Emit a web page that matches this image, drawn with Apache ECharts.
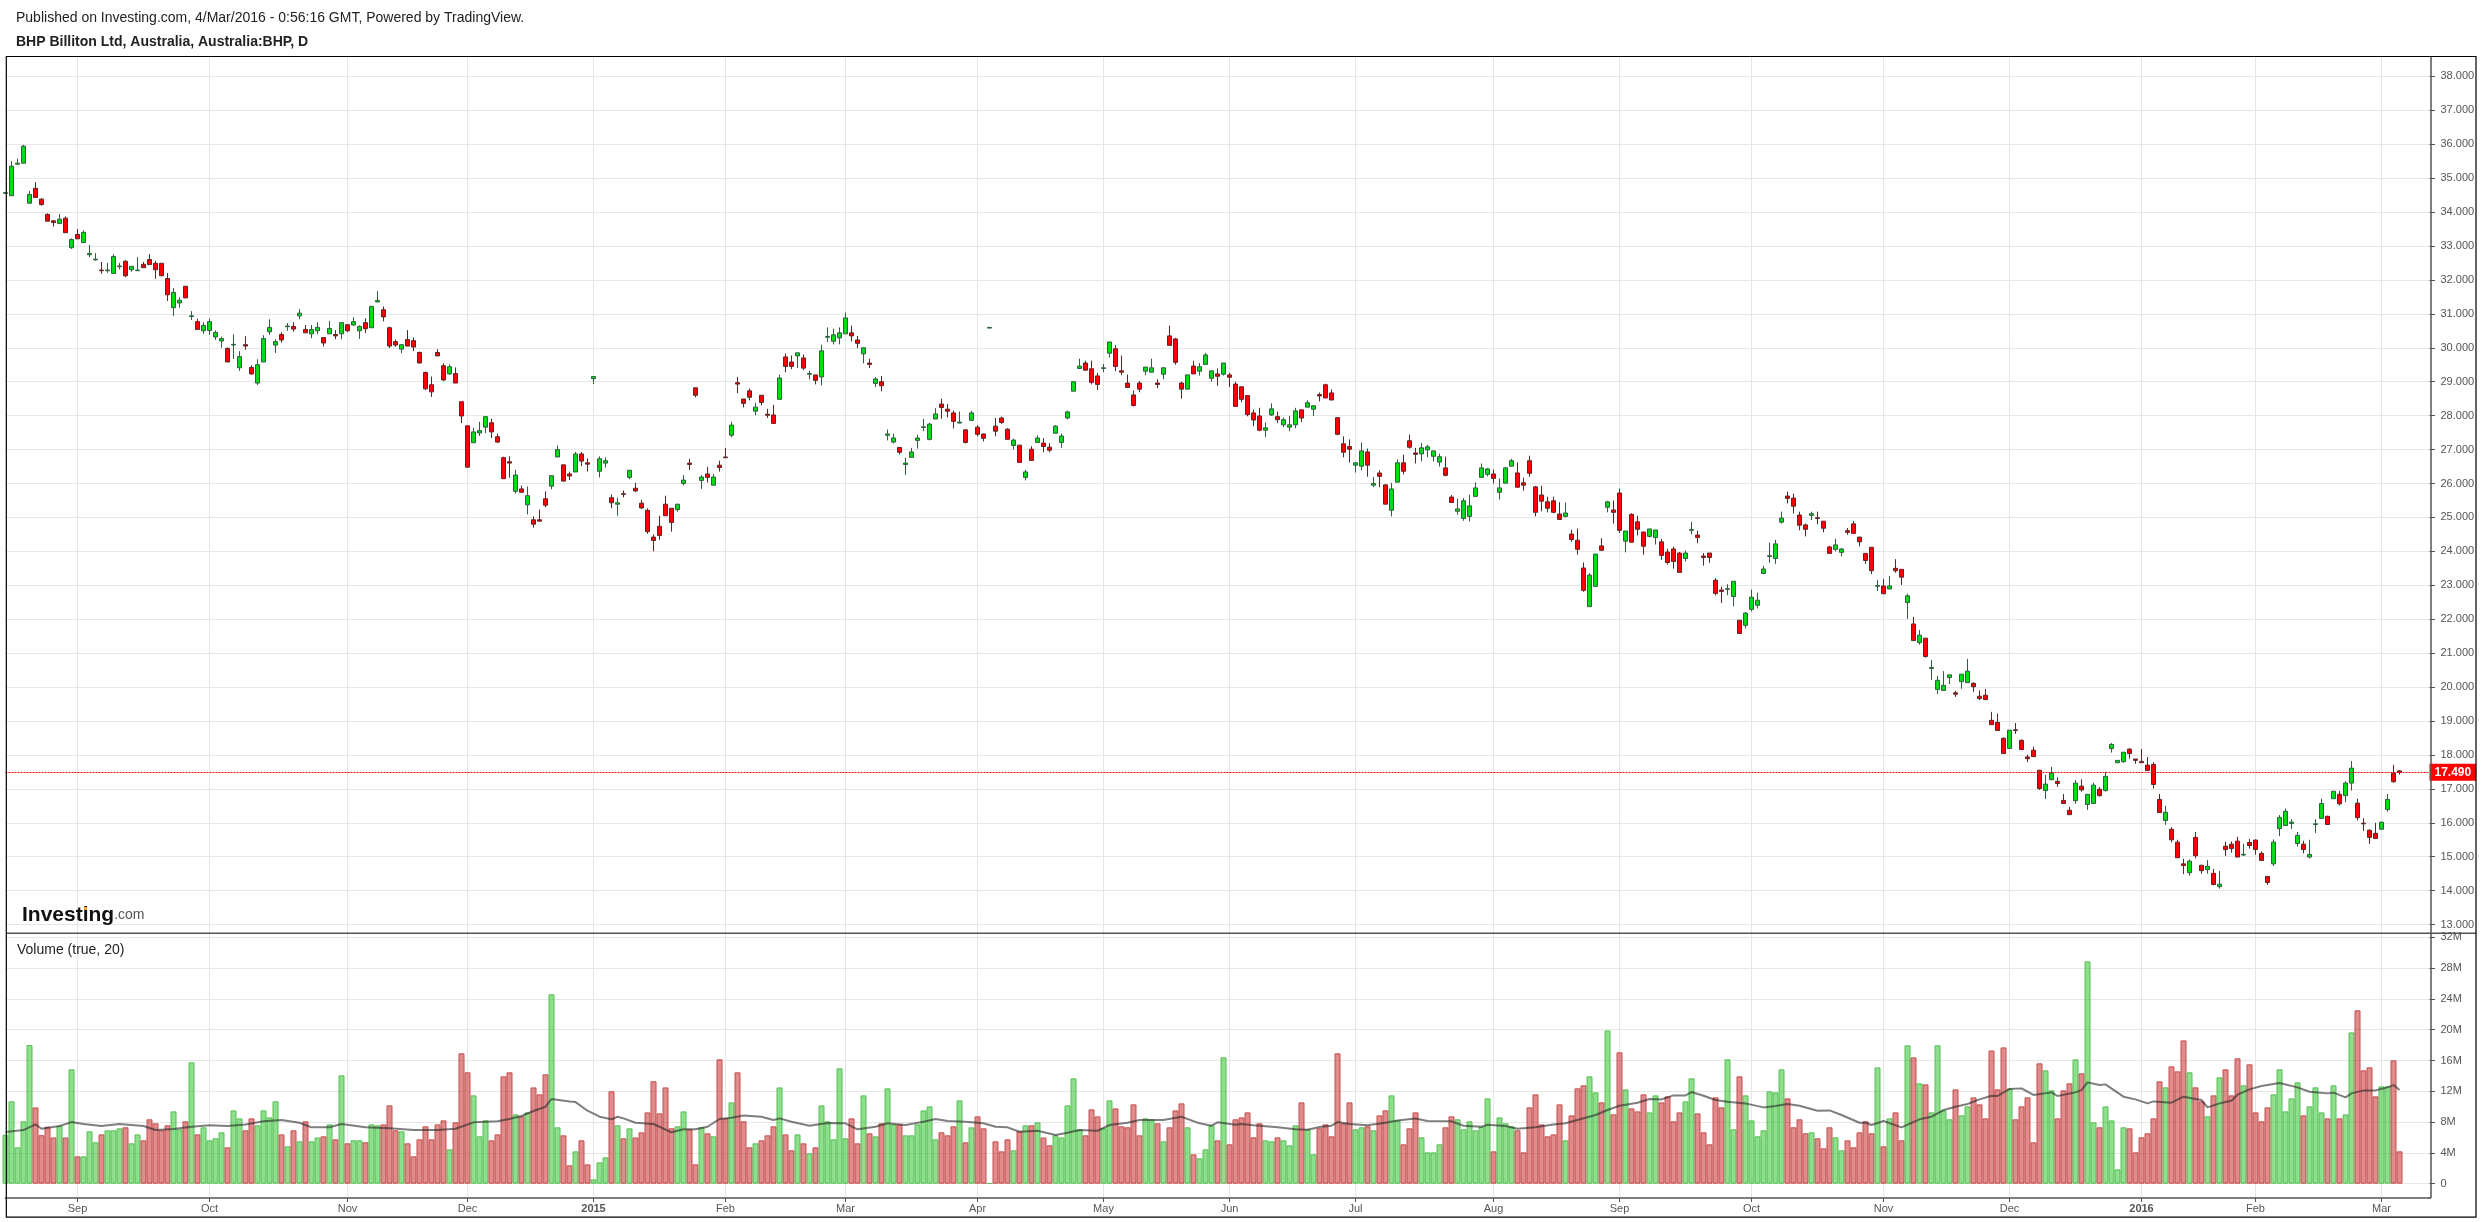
<!DOCTYPE html>
<html>
<head>
<meta charset="utf-8">
<title>BHP Billiton Ltd</title>
<script src="https://cdn.jsdelivr.net/npm/echarts@6/dist/echarts.min.js"></script>
<style>
  html, body { margin: 0; padding: 0; background: #fff; }
  #chart { width: 2484px; height: 1222px; }
</style>
</head>
<body>
<div id="chart"></div>
<script>
// 每日K线：开盘 / 收盘 / 最低 / 最高
const opens = [
  34.55,34.48,35.41,35.44,34.26,34.70,34.38,33.93,33.74,33.66,
  33.82,32.95,33.34,33.10,32.74,32.59,32.29,32.27,32.19,32.39,
  32.55,32.30,32.27,32.46,32.60,32.49,32.49,32.04,31.18,31.32,
  31.81,30.92,30.77,30.50,30.51,30.32,30.20,29.98,30.08,29.41,
  30.09,29.42,28.96,29.58,30.47,30.08,30.39,30.62,30.63,30.94,
  30.54,30.41,30.50,30.30,30.41,30.39,30.41,30.68,30.67,30.50,
  30.74,30.59,31.35,31.12,30.59,30.18,29.96,30.24,30.21,29.86,
  29.27,28.91,29.86,29.47,29.23,29.24,28.41,27.70,27.20,27.49,
  27.66,27.79,27.38,26.76,26.64,25.77,25.84,25.37,24.93,24.93,
  25.55,25.92,26.78,26.55,26.28,26.34,26.87,26.61,29.09,26.36,
  26.60,25.58,25.39,25.70,26.18,25.86,25.42,25.21,24.42,24.74,
  25.39,25.27,25.23,26.00,26.60,28.82,26.09,26.28,25.95,26.54,
  26.78,27.42,28.97,28.49,28.73,28.13,28.60,28.04,28.02,28.48,
  29.73,29.58,29.76,29.70,29.22,29.20,29.14,30.31,30.19,30.29,
  30.41,30.44,30.23,29.82,29.55,28.95,29.00,27.42,27.22,27.06,
  26.56,26.77,27.27,27.65,27.30,27.90,28.34,28.19,28.08,27.78,
  27.58,27.86,27.66,27.46,30.58,27.69,27.93,27.60,27.12,27.13,
  26.18,27.01,27.21,27.19,27.07,27.48,27.21,27.93,28.72,29.39,
  29.55,29.38,29.17,29.39,29.84,29.97,29.32,28.96,28.61,28.96,
  29.31,29.28,28.96,29.22,30.35,30.26,28.96,28.78,29.46,29.31,
  29.51,29.10,29.23,29.22,29.20,28.93,28.85,28.59,28.08,27.99,
  27.57,28.02,27.97,27.73,27.66,27.73,28.17,28.25,28.19,28.62,
  28.91,28.67,27.94,27.17,27.09,26.54,26.51,26.93,25.95,26.31,
  25.96,25.21,26.04,26.61,27.26,26.90,26.87,26.99,26.80,26.63,
  26.46,25.60,25.18,24.97,25.03,25.62,26.18,26.27,26.28,25.74,
  26.01,26.51,26.31,26.02,26.67,25.90,25.66,25.46,25.49,25.10,
  25.03,24.51,24.33,23.51,22.37,22.97,24.16,25.30,25.22,25.72,
  24.30,25.09,24.87,24.57,24.44,24.41,24.28,23.98,24.07,23.95,
  23.79,24.62,24.48,23.86,23.95,23.15,22.86,22.88,22.67,21.97,
  21.82,22.29,22.41,23.35,23.85,23.79,24.86,25.63,25.57,25.07,
  24.78,25.06,24.99,24.89,24.13,24.06,23.97,24.61,24.81,24.42,
  23.94,24.12,22.97,22.98,22.89,23.50,23.47,22.49,21.86,21.31,
  21.44,20.55,19.93,19.90,20.28,19.83,20.16,20.13,20.11,19.73,
  19.76,19.02,18.96,18.49,18.19,18.74,18.43,17.94,18.14,17.55,
  16.95,17.27,17.22,16.66,16.37,16.65,17.08,16.54,16.57,16.99,
  16.95,18.19,17.77,17.80,18.17,17.88,17.81,17.70,17.72,16.69,
  16.07,15.81,15.43,14.79,14.53,15.57,14.75,14.62,14.51,14.12,
  15.31,15.37,15.46,15.05,15.42,15.49,15.10,14.42,14.79,15.83,
  15.92,15.98,15.39,15.37,14.99,15.95,16.13,16.19,16.71,16.84,
  16.80,17.17,16.58,15.99,15.78,15.69,15.81,16.39,17.46,17.53
];
const closes = [
  34.57,35.35,35.44,35.94,34.52,34.43,34.22,33.73,33.69,33.79,
  33.39,33.19,33.21,33.40,32.78,32.61,32.27,32.29,32.69,32.41,
  32.12,32.40,32.29,32.36,32.45,32.30,32.12,31.56,31.63,31.40,
  31.47,30.94,30.54,30.66,30.77,30.45,30.27,29.58,30.10,29.74,
  30.05,29.23,29.50,30.27,30.60,30.18,30.23,30.64,30.55,31.02,
  30.44,30.54,30.60,30.14,30.57,30.35,30.74,30.50,30.77,30.63,
  30.56,31.22,31.39,30.91,30.05,30.08,30.09,30.05,30.02,29.55,
  28.79,28.70,29.76,29.05,29.44,28.96,27.99,26.48,27.52,27.56,
  27.97,27.52,27.22,26.14,26.60,26.25,25.74,25.64,24.80,24.89,
  25.36,26.23,27.00,26.07,26.22,26.87,26.66,26.57,29.15,26.73,
  26.67,25.43,25.43,25.68,26.39,25.78,25.28,24.58,24.32,24.47,
  25.05,24.85,25.39,26.10,26.56,28.60,26.19,26.18,26.19,26.47,
  26.76,27.72,28.93,28.36,28.54,28.25,28.39,28.01,27.77,29.11,
  29.45,29.45,29.85,29.40,29.24,29.04,29.91,30.33,30.38,30.44,
  30.88,30.35,30.13,30.00,29.51,29.08,28.88,27.46,27.34,26.92,
  26.60,26.93,27.34,27.67,27.75,28.05,28.24,28.13,27.83,27.81,
  27.21,28.08,27.45,27.33,30.60,27.54,27.80,27.30,27.28,26.62,
  26.34,26.68,27.34,27.09,26.98,27.69,27.40,28.11,29.00,29.46,
  29.34,28.98,28.92,29.41,30.17,29.45,29.28,28.83,28.30,28.78,
  29.43,29.41,28.92,29.41,30.07,29.57,28.78,29.20,29.23,29.44,
  29.79,29.32,29.16,29.55,29.13,28.27,28.48,28.03,27.87,27.57,
  27.64,28.20,27.88,27.88,27.73,28.14,27.93,28.38,28.29,28.58,
  28.52,28.46,27.45,26.92,27.01,26.61,26.96,26.54,26.00,26.21,
  25.39,25.84,26.61,26.36,27.07,26.86,27.05,27.08,26.96,26.79,
  26.24,25.44,25.25,25.49,25.34,25.87,26.46,26.43,26.15,25.87,
  26.46,26.67,25.89,25.95,26.30,25.15,25.48,25.27,25.15,24.94,
  25.13,24.35,24.06,22.85,23.30,23.92,24.03,25.46,25.15,24.62,
  24.60,24.27,24.65,24.15,24.66,24.63,23.88,23.67,23.70,23.38,
  23.95,24.64,24.41,23.82,23.82,22.76,22.82,22.90,23.12,21.58,
  22.18,22.65,22.56,23.48,23.87,24.22,24.98,25.56,25.33,24.77,
  24.65,25.11,24.97,24.68,23.94,24.19,24.07,24.56,24.53,24.28,
  23.73,23.43,22.99,22.75,22.98,23.43,23.24,22.69,21.37,21.53,
  20.90,20.58,20.20,20.05,20.36,19.79,20.38,20.47,20.01,19.66,
  19.63,18.89,18.72,18.04,18.73,18.72,18.16,17.89,17.95,17.01,
  17.14,17.47,17.16,16.57,16.24,17.17,16.97,16.84,17.11,16.80,
  17.37,18.31,17.84,18.08,18.04,17.84,17.77,17.54,17.13,16.30,
  16.31,15.50,14.97,14.74,14.87,15.03,14.59,14.72,14.18,14.19,
  15.21,15.24,14.99,15.07,15.33,15.21,14.89,14.24,15.43,16.16,
  16.34,16.02,15.63,15.21,15.07,15.97,16.57,15.95,16.93,16.56,
  17.17,17.61,16.15,15.97,15.57,15.54,16.02,16.69,17.21,17.49
];
const lows = [
  34.54,34.48,35.41,35.44,34.26,34.43,34.19,33.73,33.57,33.66,
  33.39,32.91,33.21,33.10,32.67,32.57,32.18,32.21,32.19,32.31,
  32.08,32.24,32.27,32.36,32.45,32.03,32.12,31.38,30.94,31.18,
  31.47,30.82,30.54,30.41,30.38,30.23,30.00,29.58,29.67,29.32,
  29.94,29.20,28.90,29.58,30.38,29.85,30.15,30.50,30.47,30.84,
  30.44,30.28,30.40,30.04,30.41,30.25,30.25,30.46,30.64,30.26,
  30.43,30.59,31.35,30.78,29.99,30.03,29.84,30.05,29.90,29.55,
  28.75,28.55,29.76,29.02,29.20,28.96,27.78,26.48,27.20,27.40,
  27.48,27.34,27.19,26.14,26.17,25.70,25.74,25.09,24.70,24.89,
  25.30,25.83,26.78,26.07,26.10,26.34,26.51,26.35,28.93,26.18,
  26.47,25.27,25.05,25.59,26.13,25.75,25.25,24.52,24.00,24.34,
  25.05,24.58,25.17,25.94,26.40,28.54,25.84,26.03,25.95,26.35,
  26.76,27.36,28.66,28.24,28.45,28.01,28.30,27.93,27.77,28.48,
  29.28,29.37,29.40,29.34,29.07,28.92,28.89,30.17,30.10,30.10,
  30.41,30.19,29.99,29.54,29.40,28.84,28.72,27.27,27.18,26.86,
  26.25,26.77,27.03,27.54,27.27,27.90,27.91,27.95,27.62,27.78,
  27.18,27.86,27.39,27.24,30.58,27.39,27.75,27.30,27.00,26.62,
  26.09,26.68,27.21,26.92,26.92,27.48,27.05,27.89,28.72,29.39,
  29.34,28.92,28.75,29.28,29.71,29.31,29.19,28.81,28.27,28.69,
  29.19,29.28,28.81,29.07,30.07,29.50,28.50,28.78,29.23,29.18,
  29.51,29.00,28.88,29.18,28.84,28.27,28.40,27.98,27.69,27.54,
  27.37,27.99,27.78,27.66,27.54,27.63,27.81,28.25,27.99,28.42,
  28.52,28.46,27.42,26.77,26.62,26.32,26.39,26.20,25.89,25.89,
  25.39,25.03,26.04,26.27,27.03,26.59,26.65,26.77,26.65,26.50,
  26.21,25.44,25.08,24.90,24.88,25.62,26.18,26.21,26.00,25.53,
  26.01,26.51,25.89,25.79,26.20,25.03,25.18,25.15,25.12,24.94,
  25.00,24.28,23.90,22.81,22.37,22.97,24.03,25.15,24.82,24.54,
  23.97,24.27,24.47,23.90,24.41,24.20,23.75,23.61,23.49,23.38,
  23.70,24.50,24.24,23.58,23.66,22.70,22.48,22.71,22.38,21.58,
  21.73,22.23,22.32,23.35,23.66,23.63,24.82,25.41,25.12,24.62,
  24.44,24.92,24.80,24.56,23.94,24.00,23.85,24.49,24.53,24.15,
  23.63,23.33,22.83,22.74,22.89,23.37,23.01,22.01,21.37,21.25,
  20.87,20.21,19.80,19.90,20.09,19.71,19.95,20.13,19.86,19.62,
  19.63,18.89,18.72,18.04,18.19,18.62,18.16,17.79,17.95,16.97,
  16.70,17.27,17.06,16.57,16.24,16.56,16.92,16.38,16.57,16.77,
  16.92,18.07,17.77,17.77,17.89,17.74,17.77,17.54,17.01,16.30,
  15.94,15.42,14.97,14.49,14.44,14.95,14.50,14.50,14.16,14.06,
  15.02,15.12,14.99,15.02,15.24,15.06,14.89,14.17,14.73,15.61,
  15.92,15.82,15.30,15.10,14.95,15.70,16.13,15.95,16.71,16.51,
  16.61,16.95,16.07,15.76,15.38,15.54,15.81,16.33,17.18,17.42
];
const highs = [
  34.58,35.50,35.57,35.98,34.62,34.88,34.41,33.96,33.76,33.94,
  33.87,33.22,33.50,33.46,33.03,32.79,32.53,32.50,32.76,32.50,
  32.58,32.40,32.67,32.53,32.76,32.56,32.49,32.20,31.76,31.49,
  31.83,31.08,30.86,30.75,30.86,30.51,30.33,30.01,30.40,29.90,
  30.34,29.48,29.66,30.37,30.84,30.25,30.46,30.73,30.75,31.14,
  30.67,30.67,30.75,30.30,30.79,30.52,30.74,30.68,30.90,30.66,
  30.87,31.22,31.67,31.22,30.62,30.24,30.09,30.52,30.30,29.89,
  29.30,29.15,29.96,29.54,29.51,29.42,28.41,27.70,27.64,27.82,
  27.97,27.91,27.47,26.79,26.80,26.40,25.94,25.91,25.03,25.23,
  25.77,26.23,27.12,26.55,26.35,26.93,26.93,26.74,29.15,26.80,
  26.77,25.68,25.58,25.79,26.39,26.02,25.52,25.27,24.50,25.05,
  25.64,25.27,25.39,26.25,26.73,28.82,26.25,26.49,26.28,26.67,
  27.05,27.82,29.14,28.49,28.80,28.38,28.60,28.20,28.32,29.21,
  29.83,29.77,29.85,29.80,29.32,29.20,30.09,30.60,30.56,30.60,
  31.04,30.65,30.35,30.00,29.68,29.14,29.17,27.59,27.47,27.07,
  26.76,27.05,27.44,27.90,27.79,28.22,28.50,28.34,28.15,28.12,
  27.60,28.14,27.72,27.46,30.60,27.93,27.97,27.63,27.32,27.13,
  26.40,27.10,27.42,27.34,27.19,27.72,27.47,28.15,29.00,29.68,
  29.62,29.62,29.26,29.52,30.17,30.08,29.77,29.21,28.74,29.02,
  29.43,29.68,29.07,29.41,30.65,30.29,29.00,29.20,29.62,29.55,
  29.85,29.32,29.39,29.55,29.26,29.00,28.85,28.59,28.18,28.23,
  27.80,28.36,28.12,27.94,27.99,28.23,28.17,28.45,28.29,28.68,
  28.94,28.77,27.94,27.39,27.30,26.61,27.21,27.03,26.19,26.39,
  25.96,26.02,26.71,26.85,27.44,27.05,27.20,27.14,26.96,26.88,
  26.79,25.66,25.55,25.57,25.67,26.03,26.59,26.46,26.41,26.15,
  26.49,26.73,26.62,26.17,26.82,25.93,25.93,25.61,25.61,25.45,
  25.44,24.64,24.67,23.67,23.36,23.92,24.39,25.49,25.50,25.85,
  24.60,25.12,25.05,24.57,24.66,24.63,24.37,24.08,24.14,23.98,
  24.02,24.87,24.61,23.95,23.95,23.21,22.96,23.03,23.12,21.97,
  22.21,22.87,22.78,23.57,24.26,24.34,25.17,25.76,25.70,25.17,
  24.82,25.17,25.17,24.89,24.16,24.37,24.10,24.69,24.90,24.42,
  23.94,24.12,23.16,23.18,23.27,23.77,23.47,22.75,22.07,21.68,
  21.44,20.80,20.33,20.47,20.36,19.89,20.38,20.83,20.14,19.90,
  19.95,19.27,19.22,18.52,18.73,18.94,18.46,18.01,18.24,17.55,
  17.41,17.65,17.34,16.85,16.47,17.26,17.28,16.84,17.18,17.05,
  17.50,18.35,17.84,18.08,18.20,17.88,18.18,17.94,17.79,16.85,
  16.50,15.87,15.50,14.94,14.92,15.73,14.75,14.90,14.64,14.58,
  15.44,15.45,15.59,15.38,15.52,15.51,15.16,14.42,15.51,16.23,
  16.42,16.11,15.73,15.47,15.50,16.11,16.71,16.21,16.93,16.94,
  17.23,17.82,16.71,16.14,15.81,16.00,16.02,16.85,17.71,17.55
];

// 成交量（百万）
const volumes = [
  6.36,10.7,4.72,8.1,18.0,9.9,6.3,7.4,6.0,7.5,
  6.0,14.85,3.55,3.55,6.8,5.37,6.4,6.93,6.93,7.19,
  7.32,5.24,6.4,5.63,8.36,7.84,6.93,7.58,9.39,7.06,
  8.1,15.76,6.4,7.32,5.63,5.89,6.67,4.72,9.52,8.48,
  6.93,8.48,7.58,9.52,8.61,10.7,6.4,4.85,6.93,5.5,
  8.1,5.5,6.0,6.15,7.7,5.76,14.07,5.24,5.63,5.63,
  5.37,7.7,7.58,7.7,10.17,6.93,6.8,5.24,3.55,5.76,
  7.45,5.76,7.7,8.22,4.46,7.97,16.93,14.46,11.47,6.15,
  8.22,5.63,6.4,13.94,14.46,9.0,8.74,9.26,12.5,11.6,
  14.2,24.6,7.32,6.28,2.38,4.2,5.63,2.51,0.56,2.77,
  3.42,12.0,7.58,5.89,7.19,6.0,6.67,9.26,13.3,9.13,
  12.5,7.19,7.45,9.39,7.06,2.51,7.32,6.54,6.15,16.15,
  8.48,10.56,14.46,8.1,4.72,5.24,5.63,6.28,7.45,12.5,
  6.4,4.33,6.4,5.24,3.94,4.72,10.17,8.1,5.76,14.98,
  5.89,8.48,5.24,11.47,6.54,6.15,7.84,12.38,7.7,7.7,
  6.28,6.28,7.7,9.52,10.04,5.76,6.67,6.28,7.45,10.82,
  5.37,7.32,8.74,7.19,0.05,5.5,4.2,5.76,4.33,6.8,
  7.58,7.58,7.97,6.0,4.98,6.28,6.0,10.17,13.68,7.06,
  6.28,9.65,8.74,7.19,10.82,9.78,7.45,7.32,10.3,6.28,
  8.48,8.36,7.84,5.5,7.32,9.52,10.43,7.32,3.81,3.29,
  4.46,7.58,5.63,16.41,5.11,8.36,8.61,9.26,6.02,7.84,
  5.63,5.5,6.02,5.63,4.98,7.58,10.56,7.06,3.81,7.19,
  7.7,6.15,16.93,7.84,10.56,7.06,7.32,7.45,6.93,8.87,
  9.52,11.47,8.22,5.11,7.19,9.26,6.02,4.07,4.07,5.11,
  7.32,8.74,8.36,7.06,8.1,6.93,7.4,11.08,4.2,8.61,
  7.84,7.45,6.93,4.07,9.91,11.6,7.7,6.15,6.4,10.3,
  5.63,8.87,12.38,12.77,13.94,11.86,10.56,19.91,9.0,17.06,
  12.25,9.78,9.39,11.6,9.26,11.47,10.56,11.34,8.1,9.26,
  10.69,13.68,9.13,6.67,5.11,11.21,9.91,16.15,7.06,13.94,
  11.47,8.22,6.15,6.93,11.99,11.86,14.85,11.08,7.32,8.36,
  6.54,6.67,5.89,4.59,7.32,6.02,4.33,5.63,4.72,6.67,
  8.1,6.54,15.1,4.85,8.48,9.26,5.63,17.97,16.4,13.03,
  12.9,9.26,17.97,9.52,8.36,12.25,8.87,10.04,11.21,10.3,
  8.48,17.3,12.25,17.7,12.38,8.36,10.04,11.21,5.37,15.63,
  14.72,12.12,8.48,12.12,13.03,16.15,14.33,28.87,7.97,7.32,
  10.04,8.22,1.86,7.32,7.19,4.07,6.02,6.54,8.48,13.29,
  12.51,15.24,14.59,18.61,14.46,12.51,10.69,8.74,11.47,13.81,
  14.85,11.47,16.28,12.77,15.5,9.26,8.1,9.91,11.6,14.85,
  9.39,11.08,13.16,8.87,10.04,12.51,9.26,8.48,12.77,8.48,
  9.0,19.65,22.51,14.72,15.11,11.34,12.64,12.64,16.02,4.2
];

// 成交量均线：只取读得出的转折点（柱序号 + 数值）
const maBars = [
  0,3,5,6,9,11,13,16,19,23,25,28,31,34,37,40,43,46,49,51,
  54,56,60,64,68,72,75,78,82,84,86,88,90,91,94,95,97,99,101,102,
  103,105,108,111,113,115,117,119,121,123,126,128,129,131,134,137,140,142,145,147,
  150,153,155,157,160,163,165,167,169,172,175,177,179,182,184,187,189,193,196,199,
  201,202,205,206,208,212,215,217,219,221,222,224,227,230,232,235,237,241,243,246,
  247,250,252,255,258,260,262,265,267,269,272,274,276,278,280,281,283,285,287,290,
  293,295,297,299,302,304,306,309,310,311,313,316,319,321,323,325,327,329,331,332,
  334,336,338,341,342,345,346,347,349,350,353,355,357,358,361,363,365,366,367,369,
  371,372,374,376,379,382,384,387,388,390,391,393,395,397,398,399
];
const maValues = [
  6.71,6.97,7.7,7.14,7.49,8.0,7.75,7.49,7.75,7.49,6.97,7.1,7.4,7.58,7.49,7.7,8.1,8.27,7.92,7.32,
  7.32,7.75,7.32,7.19,6.97,6.97,7.14,7.97,8.1,8.4,8.79,9.44,10.0,11.0,10.69,10.6,9.48,8.7,8.36,8.7,
  8.48,7.92,7.75,6.67,7.06,7.06,7.4,8.4,8.57,8.87,8.7,8.27,8.48,8.05,7.53,7.88,7.84,7.06,7.4,7.84,
  7.62,8.05,8.4,8.14,8.05,7.84,7.4,7.32,6.75,6.88,6.32,6.62,6.97,6.88,7.62,7.92,8.27,8.27,8.7,7.84,
  7.53,7.97,7.66,7.75,7.58,7.32,7.06,7.0,7.36,7.53,8.0,7.75,7.58,7.92,8.22,8.48,8.14,8.1,7.53,7.4,
  7.66,7.49,7.14,7.32,7.7,7.84,8.27,8.92,9.57,10.13,10.52,11.0,10.95,11.47,11.47,11.9,11.43,10.87,10.65,10.43,
  9.91,10.09,10.35,10.13,9.48,9.52,8.92,7.92,7.92,7.62,8.14,7.32,8.36,8.7,9.57,10.0,10.35,10.95,11.43,11.39,
  12.29,12.38,11.52,11.86,11.39,11.86,12.16,13.16,12.81,12.9,11.3,10.95,10.43,10.69,10.52,11.3,11.0,10.87,9.91,10.43,
  10.78,11.56,12.25,12.68,13.07,12.51,11.95,11.73,11.82,11.21,11.73,12.12,12.12,12.51,12.81,12.16
];

// 月份刻度
const tickBars = [12,34,57,77,98,120,140,162,183,204,225,248,269,291,313,334,356,375,396];
const tickLabels = ['Sep','Oct','Nov','Dec','2015','Feb','Mar','Apr','May','Jun','Jul','Aug','Sep','Oct','Nov','Dec','2016','Feb','Mar'];

const lastPrice = 17.49;
const emptySlots = 5;   // 右侧留白

const font = '"Liberation Sans", Arial, sans-serif';
const gridColor = '#e6e6e6';
const axisColor = '#555';

const chart = echarts.init(document.getElementById('chart'));

const categories = [];
for (let i = 0; i < opens.length + emptySlots; i++) {
  const t = tickBars.indexOf(i);
  categories.push(t >= 0 ? tickLabels[t] : String(i));
}

const candleData = opens.map((o, i) => [o, closes[i], lows[i], highs[i]]);

const volumeData = volumes.map((v, i) => {
  const up = closes[i] >= opens[i];
  return {
    value: v,
    itemStyle: up
      ? { color: 'rgba(30,190,30,0.5)', borderColor: '#55c055' }
      : { color: 'rgba(190,25,25,0.5)', borderColor: '#c84c4c' }
  };
});

const maData = maBars.map((b, i) => [b, maValues[i]]);

const isTick = (i) => tickBars.indexOf(i) >= 0;

// 每根K线正好 6px
const left = 5.5;
const plotWidth = 2424;

const hiddenX = (gridIndex) => ({
  type: 'category',
  gridIndex,
  data: categories,
  boundaryGap: false,
  axisLine: { show: false },
  axisTick: { show: false },
  axisLabel: { show: false },
  splitLine: { show: false }
});

const option = {
  animation: false,
  backgroundColor: '#fff',
  title: [
    {
      text: 'Published on Investing.com, 4/Mar/2016 - 0:56:16 GMT, Powered by TradingView.',
      left: 16, top: 11, padding: 0,
      textStyle: { fontFamily: font, fontSize: 14, fontWeight: 'normal', color: '#222' }
    },
    {
      text: 'BHP Billiton Ltd, Australia, Australia:BHP, D',
      left: 16, top: 35, padding: 0,
      textStyle: { fontFamily: font, fontSize: 14, fontWeight: 'bold', color: '#222' }
    },
    {
      text: 'Volume (true, 20)',
      left: 17, top: 943, padding: 0,
      textStyle: { fontFamily: font, fontSize: 14, fontWeight: 'normal', color: '#222' }
    }
  ],
  grid: [
    { left, width: plotWidth, top: 76.3, height: 848.3 },
    { left, width: plotWidth, top: 937.3, height: 246.4 },
    { left, width: plotWidth, top: 57, height: 1141 }
  ],
  xAxis: [
    hiddenX(0),
    hiddenX(1),
    {
      type: 'category',
      gridIndex: 2,
      data: categories,
      boundaryGap: false,
      axisLine: { lineStyle: { color: axisColor, width: 1.5 } },
      axisTick: { alignWithLabel: true, length: 4, interval: isTick, lineStyle: { color: axisColor } },
      splitLine: { show: true, interval: isTick, lineStyle: { color: gridColor, width: 1 } },
      axisLabel: {
        interval: isTick,
        margin: 5,
        fontFamily: font,
        fontSize: 11,
        color: axisColor,
        formatter: (v) => (/^\d{4}$/.test(v) ? '{y|' + v + '}' : v),
        rich: { y: { fontFamily: font, fontSize: 11, fontWeight: 'bold', color: axisColor } }
      }
    }
  ],
  yAxis: [
    {
      type: 'value',
      gridIndex: 0,
      position: 'right',
      min: 13,
      max: 38,
      interval: 1,
      axisLine: { show: false },
      axisTick: { show: true, length: 5.5, lineStyle: { color: axisColor } },
      axisLabel: {
        margin: 11, padding: [3, 0, 0, 0], fontFamily: font, fontSize: 11, color: axisColor,
        formatter: (v) => v.toFixed(3)
      },
      splitLine: { show: true, lineStyle: { color: gridColor, width: 1 } }
    },
    {
      type: 'value',
      gridIndex: 1,
      position: 'right',
      min: 0,
      max: 32,
      interval: 4,
      axisLine: { show: false },
      axisTick: { show: true, length: 5.5, lineStyle: { color: axisColor } },
      axisLabel: {
        margin: 11, padding: [3, 0, 0, 0], fontFamily: font, fontSize: 11, color: axisColor,
        formatter: (v) => (v === 0 ? '0' : v + 'M')
      },
      splitLine: { show: true, lineStyle: { color: gridColor, width: 1 } }
    },
    {
      type: 'value',
      gridIndex: 2,
      position: 'right',
      min: 0,
      max: 1,
      axisLine: { show: false },
      axisTick: { show: false },
      axisLabel: { show: false },
      splitLine: { show: false }
    }
  ],
  series: [
    {
      name: 'BHP',
      type: 'candlestick',
      xAxisIndex: 0,
      yAxisIndex: 0,
      barWidth: 5,
      data: candleData,
      itemStyle: {
        color: '#00dd10',
        color0: '#ff0000',
        borderColor: '#2f5f3f',
        borderColor0: '#5a2626',
        borderWidth: 1
      },
      markLine: {
        silent: true,
        symbol: 'none',
        animation: false,
        lineStyle: { color: '#ff0000', type: [2, 1], width: 1 },
        label: {
          position: 'end',
          distance: 0,
          formatter: lastPrice.toFixed(3),
          color: '#fff',
          fontFamily: font,
          fontWeight: 'bold',
          fontSize: 12,
          backgroundColor: '#ff0000',
          padding: [3, 5, 2, 5],
          lineHeight: 12
        },
        data: [{ yAxis: lastPrice }]
      }
    },
    {
      name: 'Volume',
      type: 'bar',
      xAxisIndex: 1,
      yAxisIndex: 1,
      barWidth: 6,
      data: volumeData,
      itemStyle: { borderWidth: 1 }
    },
    {
      name: 'Volume MA',
      type: 'line',
      xAxisIndex: 1,
      yAxisIndex: 1,
      data: maData,
      showSymbol: false,
      lineStyle: { color: 'rgba(40,40,40,0.6)', width: 2 }
    }
  ],
  graphic: [
    { type: 'line', z: 50, shape: { x1: 6, y1: 933.3, x2: 2476, y2: 933.3 }, style: { stroke: axisColor, lineWidth: 1.5 } },
    { type: 'line', z: 50, shape: { x1: 2431, y1: 57, x2: 2431, y2: 1198 }, style: { stroke: axisColor, lineWidth: 1.5 } },
    { type: 'line', z: 50, shape: { x1: 2429, y1: 1198, x2: 2431, y2: 1198 }, style: { stroke: axisColor, lineWidth: 1.5 } },
    { type: 'rect', z: 50, shape: { x: 6.3, y: 56.5, width: 2469.7, height: 1160.7 }, style: { fill: 'none', stroke: '#000', lineWidth: 1.2 } },
    {
      type: 'text', z: 50, left: 22, top: 905,
      style: {
        text: '{a|Investing}{b|.com}',
        rich: {
          a: { fontFamily: font, fontSize: 21, fontWeight: 'bold', fill: '#111' },
          b: { fontFamily: font, fontSize: 14, fill: '#555' }
        }
      }
    },
    { type: 'rect', z: 51, shape: { x: 84, y: 907, width: 3, height: 3 }, style: { fill: '#f5a623' } }
  ]
};

chart.setOption(option);
</script>
</body>
</html>
